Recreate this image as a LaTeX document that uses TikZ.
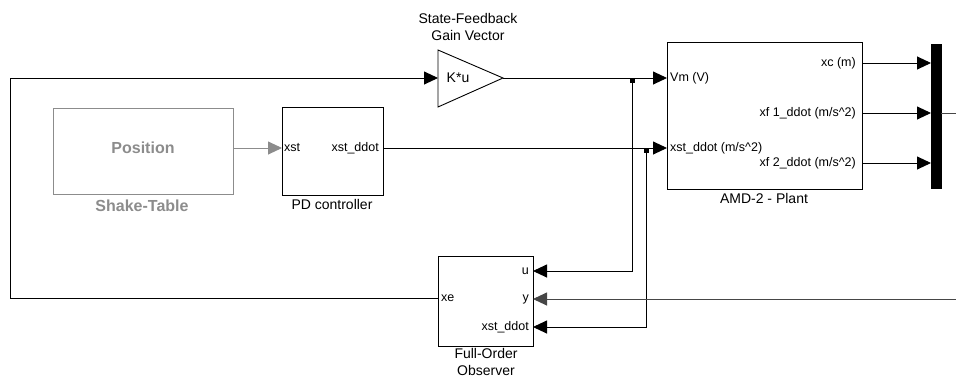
\documentclass[tikz,border=0pt]{standalone}
\usepackage{fontspec}
\setmainfont{Liberation Sans}
\usetikzlibrary{arrows.meta}

\definecolor{stgray}{RGB}{140,140,140}
\definecolor{wiregray}{RGB}{70,70,70}
\newcommand{\portfnt}{\fontsize{12.5}{15}\selectfont}
\newcommand{\lblfnt}{\fontsize{14}{16.5}\selectfont}
\newcommand{\boldfnt}{\fontsize{16}{19}\selectfont\bfseries}

\begin{document}
\begin{tikzpicture}[x=1pt,y=-1pt,
    blk/.style={draw, line width=1pt, anchor=north west, inner sep=0pt},
    port/.style={font=\portfnt, inner sep=2pt},
    lbl/.style={font=\lblfnt, align=center, inner sep=0pt},
    sig/.style={line width=0.9pt, -{Triangle[length=14pt,width=13pt]}},
    wire/.style={line width=0.9pt}]
    \useasboundingbox (0,0) rectangle (956,378);

    % shake table (greyed out block)
    \node[blk, draw=stgray, minimum width=180, minimum height=86] (st) at (53,108) {};
    \node[font=\boldfnt, text=stgray] (stpos) at (143,148) {Position};
    \node[font=\boldfnt, text=stgray] (stname) at (142,206) {Shake-Table};

    % PD controller
    \node[blk, minimum width=101, minimum height=88] (pd) at (282,107) {};
    \node[port, anchor=west] (pdxst) at (282,148) {xst};
    \node[port, anchor=east] (pdxdd) at (381,148) {xst\_ddot};
    \node[lbl] (pdname) at (332,204) {PD controller};

    % state-feedback gain
    \coordinate (gin) at (438,78);
    \coordinate (gout) at (503,78);
    \draw[line width=0.9pt] (438,50) -- (gout) -- (438,107) -- cycle;
    \node[port, font=\lblfnt] (gk) at (458,78) {K*u};
    \node[lbl] (gname) at (468,27) {State-Feedback\\Gain Vector};

    % plant
    \node[blk, minimum width=195, minimum height=147] (pl) at (667,42) {};
    \node[port, anchor=west] (plvm) at (668,78) {Vm (V)};
    \node[port, anchor=west] (plxst) at (668,148) {xst\_ddot (m/s\textasciicircum2)};
    \node[port, anchor=east] (plxc) at (858,63) {xc (m)};
    \node[port, anchor=east] (plxf1) at (858,113) {xf 1\_ddot (m/s\textasciicircum2)};
    \node[port, anchor=east] (plxf2) at (858,163) {xf 2\_ddot (m/s\textasciicircum2)};
    \node[lbl] (plname) at (764,198) {AMD-2 - Plant};

    % mux bar
    \node[blk, fill=black, minimum width=10, minimum height=144] (mux) at (931,44) {};

    % observer
    \node[blk, minimum width=95, minimum height=90] (obs) at (438,256) {};
    \node[port, anchor=west] (obsxe) at (439,298) {xe};
    \node[port, anchor=east] (obsu) at (531,271) {u};
    \node[port, anchor=east] (obsy) at (531,299) {y};
    \node[port, anchor=east] (obsxst) at (531,327) {xst\_ddot};
    \node[lbl] (obsname) at (486,362) {Full-Order\\Observer};

    % port coordinates
    \coordinate (stout) at (233,148);
    \coordinate (pdin) at (282,148);
    \coordinate (pdout) at (383,148);
    \coordinate (plin1) at (667,78);
    \coordinate (plin2) at (667,148);
    \coordinate (br1) at (632,78);
    \coordinate (br2) at (646,148);
    \coordinate (oxe) at (438,298);
    \coordinate (oin1) at (533,271);
    \coordinate (oin2) at (533,299);
    \coordinate (oin3) at (533,327);
    \coordinate (muxout) at (941,113);
    \coordinate (edgeout) at (956,113);
    \coordinate (edgein) at (956,299);

    % wires
    \draw[sig, draw=stgray, fill=stgray] (stout) -- (pdin);
    \draw[sig] (oxe) -- (10,298) -- (10,78) -- (gin);
    \draw[sig] (gout) -- (plin1);
    \draw[sig] (pdout) -- (plin2);
    \draw[sig] (br1) |- (oin1);
    \draw[sig] (br2) |- (oin3);
    \fill (630,78) rectangle (635,83);
    \fill (644,148) rectangle (649,153);
    \foreach \k/\yy in {1/63,2/113,3/163} {
        \coordinate (pout\k) at (862,\yy);
        \coordinate (mxin\k) at (931,\yy);
        \draw[sig] (pout\k) -- (mxin\k);
    }
    \draw[wire, draw=wiregray] (muxout) -- (edgeout);
    \draw[sig, draw=wiregray] (edgein) -- (oin2);
\end{tikzpicture}
\end{document}
